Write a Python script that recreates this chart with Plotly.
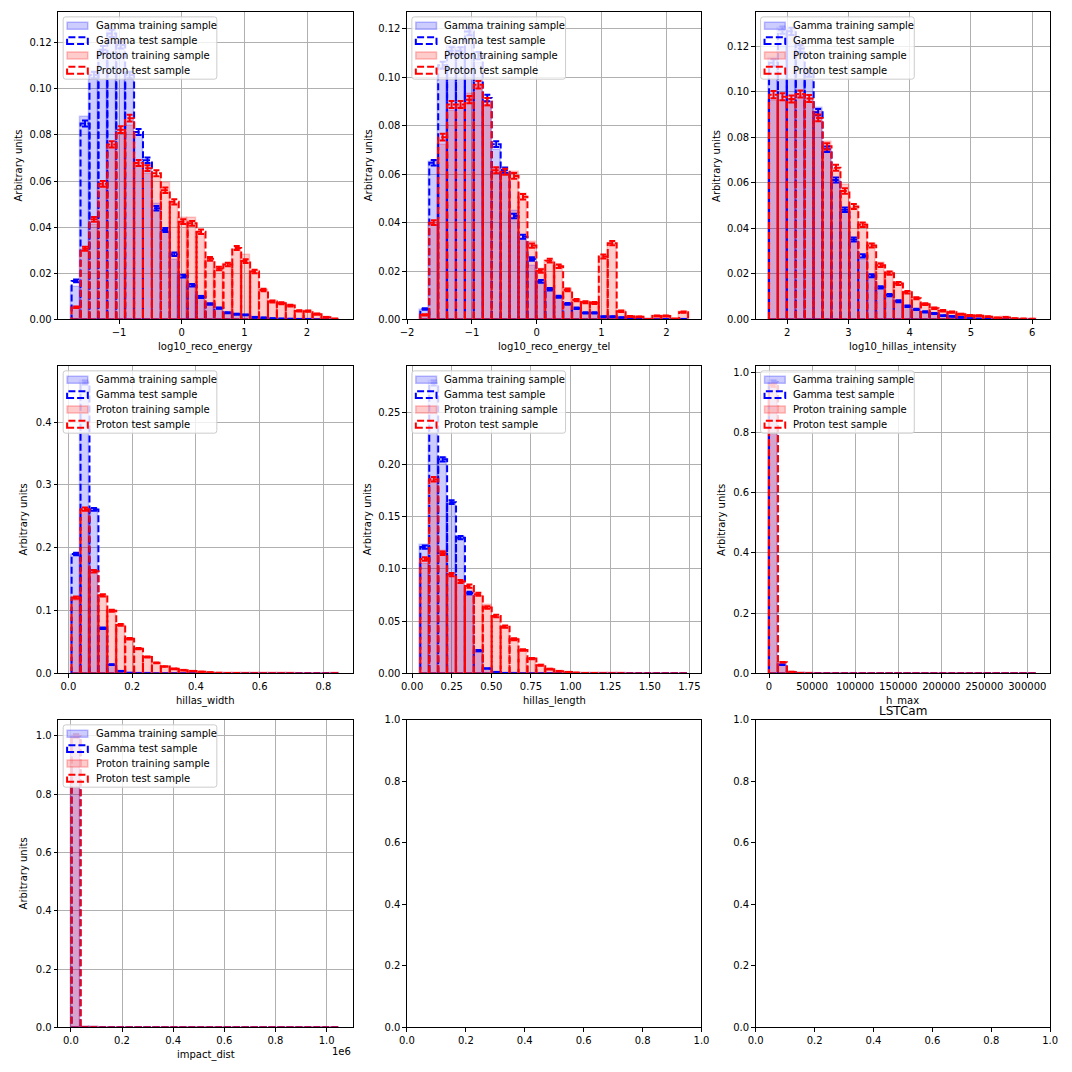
import numpy as np
import plotly.graph_objects as go

W = H = 1072
FONT = "DejaVu Sans"

# ---------------- data ----------------
feature_names = ["log10_reco_energy", "log10_reco_energy_tel", "log10_hillas_intensity",
                 "hillas_width", "hillas_length", "h_max", "impact_dist"]
bin_ranges = [(-1.758, 2.516), (-1.795, 2.335), (1.705, 6.075), (0.01, 0.85),
              (0.052, 1.742), (0.0, 311000.0), (3000.0, 1050000.0)]
n_bins = 30
n_gamma_test = 50000
n_proton_test = 40000

gamma_train_1 = [0.0143, 0.088, 0.107, 0.117, 0.127, 0.121, 0.107, 0.080, 0.067, 0.050, 0.038, 0.026, 0.018, 0.014, 0.0100, 0.0067, 0.0048, 0.0028, 0.0022, 0.0019, 0.0009, 0.0007, 0.0004, 0.0003, 0.0002, 0.0001, 0.0001, 0.0, 0.0, 0.0]
gamma_test_1 = [0.0167, 0.085, 0.106, 0.117, 0.124, 0.119, 0.106, 0.0813, 0.069, 0.0482, 0.0388, 0.0283, 0.0188, 0.0148, 0.0097, 0.0067, 0.0049, 0.0029, 0.0023, 0.0020, 0.0009, 0.0007, 0.0004, 0.0003, 0.0002, 0.0001, 0.0001, 0.0, 0.0, 0.0]
proton_train_1 = [0.0055, 0.0300, 0.0410, 0.0580, 0.0750, 0.0810, 0.0840, 0.0680, 0.0630, 0.0620, 0.0590, 0.0500, 0.0440, 0.0440, 0.0370, 0.0260, 0.0220, 0.0240, 0.0300, 0.0280, 0.0210, 0.0130, 0.0080, 0.0072, 0.0060, 0.0038, 0.0035, 0.0022, 0.0010, 0.0003]
proton_test_1 = [0.0053, 0.0307, 0.0434, 0.0588, 0.0759, 0.0823, 0.0873, 0.0678, 0.0656, 0.0634, 0.0560, 0.0510, 0.0424, 0.0417, 0.0380, 0.0263, 0.0221, 0.0238, 0.0310, 0.0253, 0.0208, 0.0128, 0.0078, 0.0070, 0.0060, 0.0037, 0.0036, 0.0023, 0.0009, 0.0003]

gamma_train_2 = [0.0040, 0.0650, 0.104, 0.113, 0.112, 0.121, 0.106, 0.090, 0.070, 0.060, 0.045, 0.033, 0.022, 0.0155, 0.0120, 0.0092, 0.0063, 0.0045, 0.0027, 0.0026, 0.0012, 0.0011, 0.0008, 0.0004, 0.0003, 0.0001, 0.0, 0.0001, 0.0, 0.0001]
gamma_test_2 = [0.0043, 0.0647, 0.105, 0.111, 0.111, 0.119, 0.109, 0.0915, 0.0724, 0.0617, 0.0427, 0.0342, 0.0250, 0.0157, 0.0125, 0.0094, 0.0064, 0.0046, 0.0027, 0.0027, 0.0012, 0.0012, 0.0008, 0.0004, 0.0003, 0.0001, 0.0, 0.0001, 0.0, 0.0001]
proton_train_2 = [0.0020, 0.0400, 0.0720, 0.0860, 0.0880, 0.0930, 0.0960, 0.0880, 0.0620, 0.0600, 0.0610, 0.0520, 0.0320, 0.0210, 0.0240, 0.0220, 0.0125, 0.0082, 0.0072, 0.0070, 0.0260, 0.0310, 0.0035, 0.0012, 0.0010, 0.0002, 0.0013, 0.0014, 0.0003, 0.0032]
proton_test_2 = [0.0019, 0.0400, 0.0753, 0.0888, 0.0888, 0.0908, 0.0970, 0.0900, 0.0616, 0.0610, 0.0593, 0.0507, 0.0305, 0.0200, 0.0243, 0.0220, 0.0122, 0.0080, 0.0071, 0.0068, 0.0260, 0.0315, 0.0034, 0.0012, 0.0011, 0.0001, 0.0014, 0.0014, 0.0003, 0.0030]

gamma_train_3 = [0.115, 0.128, 0.127, 0.121, 0.110, 0.093, 0.075, 0.061, 0.047, 0.034, 0.026, 0.019, 0.014, 0.0105, 0.0080, 0.0058, 0.0044, 0.0033, 0.0025, 0.0017, 0.0013, 0.0009, 0.0004, 0.0003, 0.0002, 0.0001, 0.0001, 0.0, 0.0, 0.0]
gamma_test_3 = [0.1127, 0.127, 0.1265, 0.119, 0.108, 0.091, 0.0747, 0.0612, 0.0482, 0.0351, 0.0279, 0.0192, 0.0141, 0.0107, 0.0080, 0.0058, 0.0044, 0.0033, 0.0026, 0.0017, 0.0013, 0.0009, 0.0004, 0.0003, 0.0002, 0.0001, 0.0001, 0.0, 0.0, 0.0]
proton_train_3 = [0.0960, 0.0960, 0.0960, 0.0980, 0.0970, 0.0910, 0.0780, 0.0660, 0.0590, 0.0490, 0.0420, 0.0330, 0.0250, 0.0210, 0.0160, 0.0120, 0.0095, 0.0068, 0.0050, 0.0038, 0.0032, 0.0023, 0.0017, 0.0016, 0.0012, 0.0007, 0.0009, 0.0004, 0.0003, 0.0002]
proton_test_3 = [0.0987, 0.0978, 0.0968, 0.0990, 0.0970, 0.0885, 0.0760, 0.0666, 0.0564, 0.0496, 0.0416, 0.0325, 0.0238, 0.0203, 0.0158, 0.0119, 0.0093, 0.0067, 0.0049, 0.0038, 0.0032, 0.0023, 0.0017, 0.0016, 0.0012, 0.0007, 0.0009, 0.0004, 0.0003, 0.0002]

gamma_train_4 = [0.188, 0.466, 0.262, 0.070, 0.013, 0.0035, 0.0010, 0.0003, 0.0001, 0.0, 0.0, 0.0, 0.0, 0.0, 0.0, 0.0, 0.0, 0.0, 0.0, 0.0, 0.0, 0.0, 0.0, 0.0, 0.0, 0.0, 0.0, 0.0, 0.0, 0.0]
gamma_test_4 = [0.190, 0.463, 0.261, 0.072, 0.014, 0.0037, 0.0010, 0.0003, 0.0001, 0.0, 0.0, 0.0, 0.0, 0.0, 0.0, 0.0, 0.0, 0.0, 0.0, 0.0, 0.0, 0.0, 0.0, 0.0, 0.0, 0.0, 0.0, 0.0, 0.0, 0.0]
proton_train_4 = [0.1150, 0.2580, 0.1600, 0.1230, 0.1000, 0.0770, 0.0550, 0.0390, 0.0260, 0.0170, 0.0110, 0.0073, 0.0052, 0.0037, 0.0026, 0.0016, 0.0010, 0.0007, 0.0005, 0.0003, 0.0002, 0.0002, 0.0001, 0.0001, 0.0001, 0.0, 0.0, 0.0, 0.0, 0.0001]
proton_test_4 = [0.1207, 0.2614, 0.1627, 0.1244, 0.0997, 0.0772, 0.0551, 0.0394, 0.0262, 0.0168, 0.0110, 0.0073, 0.0052, 0.0037, 0.0026, 0.0016, 0.0010, 0.0007, 0.0005, 0.0003, 0.0002, 0.0002, 0.0001, 0.0001, 0.0001, 0.0, 0.0, 0.0, 0.0, 0.0001]

gamma_train_5 = [0.123, 0.280, 0.206, 0.163, 0.131, 0.074, 0.020, 0.0045, 0.0012, 0.0004, 0.0001, 0.0, 0.0, 0.0, 0.0, 0.0, 0.0, 0.0, 0.0, 0.0, 0.0, 0.0, 0.0, 0.0, 0.0, 0.0, 0.0, 0.0, 0.0, 0.0]
gamma_test_5 = [0.121, 0.278, 0.205, 0.164, 0.130, 0.077, 0.0218, 0.0047, 0.0013, 0.0004, 0.0001, 0.0, 0.0, 0.0, 0.0, 0.0, 0.0, 0.0, 0.0, 0.0, 0.0, 0.0, 0.0, 0.0, 0.0, 0.0, 0.0, 0.0, 0.0, 0.0]
proton_train_5 = [0.1050, 0.1840, 0.1170, 0.0940, 0.0880, 0.0810, 0.0740, 0.0660, 0.0540, 0.0430, 0.0330, 0.0220, 0.0140, 0.0080, 0.0040, 0.0022, 0.0013, 0.0007, 0.0004, 0.0003, 0.0002, 0.0001, 0.0001, 0.0, 0.0, 0.0, 0.0, 0.0, 0.0, 0.0]
proton_test_5 = [0.1095, 0.1860, 0.1150, 0.0947, 0.0880, 0.0836, 0.0758, 0.0631, 0.0550, 0.0448, 0.0328, 0.0224, 0.0142, 0.0079, 0.0041, 0.0022, 0.0013, 0.0007, 0.0004, 0.0003, 0.0002, 0.0001, 0.0001, 0.0, 0.0, 0.0, 0.0, 0.0, 0.0, 0.0]

gamma_train_6 = [0.970, 0.0270, 0.0025, 0.0003, 0.0, 0.0, 0.0, 0.0, 0.0, 0.0, 0.0, 0.0, 0.0, 0.0, 0.0, 0.0, 0.0, 0.0, 0.0, 0.0, 0.0, 0.0, 0.0, 0.0, 0.0, 0.0, 0.0, 0.0, 0.0, 0.0]
gamma_test_6 = [0.968, 0.0290, 0.0026, 0.0004, 0.0, 0.0, 0.0, 0.0, 0.0, 0.0, 0.0, 0.0, 0.0, 0.0, 0.0, 0.0, 0.0, 0.0, 0.0, 0.0, 0.0, 0.0, 0.0, 0.0, 0.0, 0.0, 0.0, 0.0, 0.0, 0.0]
proton_train_6 = [0.960, 0.0340, 0.0050, 0.0010, 0.0002, 0.0, 0.0, 0.0, 0.0, 0.0, 0.0, 0.0, 0.0, 0.0, 0.0, 0.0, 0.0, 0.0, 0.0, 0.0, 0.0, 0.0, 0.0, 0.0, 0.0, 0.0, 0.0, 0.0, 0.0, 0.0]
proton_test_6 = [0.957, 0.0370, 0.0050, 0.0010, 0.0002, 0.0, 0.0, 0.0, 0.0, 0.0, 0.0, 0.0, 0.0, 0.0, 0.0, 0.0, 0.0, 0.0, 0.0, 0.0, 0.0, 0.0, 0.0, 0.0, 0.0, 0.0, 0.0, 0.0, 0.0, 0.0]

gamma_train_7 = [0.9995, 0.0004, 0.0001, 0.0, 0.0, 0.0, 0.0, 0.0, 0.0, 0.0, 0.0, 0.0, 0.0, 0.0, 0.0, 0.0, 0.0, 0.0, 0.0, 0.0, 0.0, 0.0, 0.0, 0.0, 0.0, 0.0, 0.0, 0.0, 0.0, 0.0]
gamma_test_7 = [0.9996, 0.0003, 0.0001, 0.0, 0.0, 0.0, 0.0, 0.0, 0.0, 0.0, 0.0, 0.0, 0.0, 0.0, 0.0, 0.0, 0.0, 0.0, 0.0, 0.0, 0.0, 0.0, 0.0, 0.0, 0.0, 0.0, 0.0, 0.0, 0.0, 0.0]
proton_train_7 = [0.9990, 0.0008, 0.0002, 0.0, 0.0, 0.0, 0.0, 0.0, 0.0, 0.0, 0.0, 0.0, 0.0, 0.0, 0.0, 0.0, 0.0, 0.0, 0.0, 0.0, 0.0, 0.0, 0.0, 0.0, 0.0, 0.0, 0.0, 0.0, 0.0, 0.0]
proton_test_7 = [0.9991, 0.0007, 0.0002, 0.0, 0.0, 0.0, 0.0, 0.0, 0.0, 0.0, 0.0, 0.0, 0.0, 0.0, 0.0, 0.0, 0.0, 0.0, 0.0, 0.0, 0.0, 0.0, 0.0, 0.0, 0.0, 0.0, 0.0, 0.0, 0.0, 0.0]

gamma_train = [gamma_train_1, gamma_train_2, gamma_train_3, gamma_train_4, gamma_train_5, gamma_train_6, gamma_train_7]
gamma_test = [gamma_test_1, gamma_test_2, gamma_test_3, gamma_test_4, gamma_test_5, gamma_test_6, gamma_test_7]
proton_train = [proton_train_1, proton_train_2, proton_train_3, proton_train_4, proton_train_5, proton_train_6, proton_train_7]
proton_test = [proton_test_1, proton_test_2, proton_test_3, proton_test_4, proton_test_5, proton_test_6, proton_test_7]

legend_labels = ["Gamma training sample", "Gamma test sample", "Proton training sample", "Proton test sample"]
impact_tickvals = [0, 200000, 400000, 600000, 800000, 1000000]
impact_ticktext = ["0.0", "0.2", "0.4", "0.6", "0.8", "1.0"]
empty_panel_title = "LSTCam"

# ---------------- layout helpers (page pixel coordinates) ----------------
col_left = [51, 405, 759]
row_top = [6, 364, 722]
PW, PH = 299, 311


def px2x(px):
    return px / W


def px2y(py):
    return 1 - py / H


BLUE_FILL = "rgba(0,0,255,0.2)"
RED_FILL = "rgba(255,0,0,0.2)"

axis_common = dict(showline=True, mirror=True, linecolor="black", linewidth=1,
                   ticks="outside", ticklen=3.5, tickwidth=0.8, tickcolor="black",
                   zeroline=False, tickfont=dict(family=FONT, size=10, color="black"))

x_tick_cfg = [dict(dtick=1, tick0=0), dict(dtick=1, tick0=0), dict(dtick=1, tick0=0),
              dict(dtick=0.2, tick0=0, tickformat=".1f"), dict(dtick=0.25, tick0=0, tickformat=".2f"),
              dict(dtick=50000, tick0=0, tickformat="d"),
              dict(tickmode="array", tickvals=impact_tickvals, ticktext=impact_ticktext)]
y_tick_cfg = [dict(dtick=0.02, tickformat=".2f"), dict(dtick=0.02, tickformat=".2f"),
              dict(dtick=0.02, tickformat=".2f"), dict(dtick=0.1, tickformat=".1f"),
              dict(dtick=0.05, tickformat=".2f"), dict(dtick=0.2, tickformat=".1f"),
              dict(dtick=0.2, tickformat=".1f")]
ylabel_offset = [40, 39, 40, 35, 40, 35, 35]

fig = go.Figure()
shapes = []
annotations = []


def rect_outline(edges, vals):
    xs, ys = [], []
    for i, v in enumerate(vals):
        x0, x1 = edges[i], edges[i + 1]
        xs += [x0, x1, x1, x0, x0, None]
        ys += [0, 0, v, v, 0, None]
    return xs, ys


def rounded_rect(x0, y0, x1, y1, r):
    X = lambda v: f"{px2x(v):.6f}"
    Y = lambda v: f"{px2y(v):.6f}"
    d = (f"M {X(x0 + r)},{Y(y0)} L {X(x1 - r)},{Y(y0)} Q {X(x1)},{Y(y0)} {X(x1)},{Y(y0 + r)} "
         f"L {X(x1)},{Y(y1 - r)} Q {X(x1)},{Y(y1)} {X(x1 - r)},{Y(y1)} "
         f"L {X(x0 + r)},{Y(y1)} Q {X(x0)},{Y(y1)} {X(x0)},{Y(y1 - r)} "
         f"L {X(x0)},{Y(y0 + r)} Q {X(x0)},{Y(y0)} {X(x0 + r)},{Y(y0)} Z")
    return d


for i in range(9):
    r, c = divmod(i, 3)
    ax = "" if i == 0 else str(i + 1)
    x0p, y0p = col_left[c], row_top[r]
    xdom = [px2x(x0p), px2x(x0p + PW)]
    ydom = [px2y(y0p + PH), px2y(y0p)]
    xa = dict(axis_common, domain=xdom, anchor="y" + ax)
    ya = dict(axis_common, domain=ydom, anchor="x" + ax)

    if i < 7:
        lo, hi = bin_ranges[i]
        edges = np.linspace(lo, hi, n_bins + 1)
        centers = 0.5 * (edges[:-1] + edges[1:])
        bw = edges[1] - edges[0]
        gtr = np.array(gamma_train[i]); gte = np.array(gamma_test[i])
        ptr = np.array(proton_train[i]); pte = np.array(proton_test[i])
        gerr = np.sqrt(gte / n_gamma_test)
        perr = np.sqrt(pte / n_proton_test)

        kw = dict(xaxis="x" + ax, yaxis="y" + ax, showlegend=False, hoverinfo="skip")
        fig.add_trace(go.Bar(x=centers, y=gtr, width=[bw] * n_bins,
                             marker=dict(color=BLUE_FILL, line=dict(color=BLUE_FILL, width=1.5)), **kw))
        fig.add_trace(go.Bar(x=centers, y=ptr, width=[bw] * n_bins,
                             marker=dict(color=RED_FILL, line=dict(color=RED_FILL, width=1.5)), **kw))
        gx, gy = rect_outline(edges, gte)
        fig.add_trace(go.Scatter(x=gx, y=gy, mode="lines",
                                 line=dict(color="blue", width=2, dash="7px,3px"), **kw))
        px_, py_ = rect_outline(edges, pte)
        fig.add_trace(go.Scatter(x=px_, y=py_, mode="lines",
                                 line=dict(color="red", width=2, dash="7px,3px"), **kw))
        fig.add_trace(go.Scatter(x=centers, y=gte, mode="markers",
                                 marker=dict(size=1, color="blue", opacity=0),
                                 error_y=dict(type="data", array=gerr, color="blue", thickness=2, width=3), **kw))
        fig.add_trace(go.Scatter(x=centers, y=pte, mode="markers",
                                 marker=dict(size=1, color="red", opacity=0),
                                 error_y=dict(type="data", array=perr, color="red", thickness=2, width=3), **kw))

        span = hi - lo
        ymax = 1.05 * max((gte + gerr).max(), (pte + perr).max(), gtr.max(), ptr.max())
        xa.update(range=[lo - 0.05 * span, hi + 0.05 * span], showgrid=True,
                  gridcolor="#b0b0b0", gridwidth=0.8, **x_tick_cfg[i])
        ya.update(range=[0, ymax], showgrid=True, gridcolor="#b0b0b0", gridwidth=0.8, **y_tick_cfg[i])

        # axis labels
        annotations.append(dict(x=px2x(x0p + PW / 2), y=px2y(y0p + PH + 28), xref="paper", yref="paper",
                                text=feature_names[i], showarrow=False, xanchor="center", yanchor="middle",
                                font=dict(family=FONT, size=10, color="black")))
        annotations.append(dict(x=px2x(x0p - ylabel_offset[i]), y=px2y(y0p + PH / 2), xref="paper", yref="paper",
                                text="Arbitrary units", showarrow=False, textangle=-90,
                                xanchor="center", yanchor="middle",
                                font=dict(family=FONT, size=10, color="black")))

        # legend
        shapes.append(dict(type="path", path=rounded_rect(x0p + 5, y0p + 5, x0p + 161, y0p + 68, 2.5),
                           xref="paper", yref="paper", fillcolor="rgba(255,255,255,0.8)",
                           line=dict(color="#cccccc", width=1), layer="above"))
        styles = [("fill", BLUE_FILL, "rgba(0,0,255,0.25)"), ("dash", None, "blue"),
                  ("fill", RED_FILL, "rgba(255,0,0,0.25)"), ("dash", None, "red")]
        for k, (kind, fc, lc) in enumerate(styles):
            yc = y0p + 14 + 15 * k
            if kind == "fill":
                shapes.append(dict(type="rect", xref="paper", yref="paper",
                                   x0=px2x(x0p + 9), x1=px2x(x0p + 30), y0=px2y(yc + 3.5), y1=px2y(yc - 3.5),
                                   fillcolor=fc, line=dict(color=lc, width=1.5), layer="above"))
            else:
                shapes.append(dict(type="rect", xref="paper", yref="paper",
                                   x0=px2x(x0p + 9), x1=px2x(x0p + 30), y0=px2y(yc + 3.5), y1=px2y(yc - 3.5),
                                   fillcolor="rgba(0,0,0,0)", line=dict(color=lc, width=2, dash="7px,3px"),
                                   layer="above"))
            annotations.append(dict(x=px2x(x0p + 36), y=px2y(yc), xref="paper", yref="paper",
                                    text=legend_labels[k], showarrow=False, xanchor="left", yanchor="middle",
                                    font=dict(family=FONT, size=10, color="black")))
    else:
        # empty axes (need a trace so that plotly draws the subplot)
        fig.add_trace(go.Scatter(x=[None], y=[None], mode="markers", xaxis="x" + ax, yaxis="y" + ax,
                                 showlegend=False, hoverinfo="skip"))
        xa.update(range=[0, 1], dtick=0.2, tick0=0, tickformat=".1f", showgrid=False)
        ya.update(range=[0, 1], dtick=0.2, tick0=0, tickformat=".1f", showgrid=False)

    fig.layout["xaxis" + ax] = xa
    fig.layout["yaxis" + ax] = ya

# offset text for impact_dist and the title of the last panel
annotations.append(dict(x=px2x(col_left[0] + PW), y=px2y(row_top[2] + PH + 24), xref="paper", yref="paper",
                        text="1e6", showarrow=False, xanchor="right", yanchor="middle",
                        font=dict(family=FONT, size=10, color="black")))
annotations.append(dict(x=px2x(col_left[2] + PW / 2), y=px2y(row_top[2] - 9), xref="paper", yref="paper",
                        text=empty_panel_title, showarrow=False, xanchor="center", yanchor="middle",
                        font=dict(family=FONT, size=12, color="black")))

fig.update_layout(width=W, height=H, margin=dict(l=0, r=0, t=0, b=0),
                  paper_bgcolor="white", plot_bgcolor="white",
                  barmode="overlay", bargap=0, showlegend=False,
                  shapes=shapes, annotations=annotations,
                  font=dict(family=FONT, size=10, color="black"))

fig.write_html("out.html")
